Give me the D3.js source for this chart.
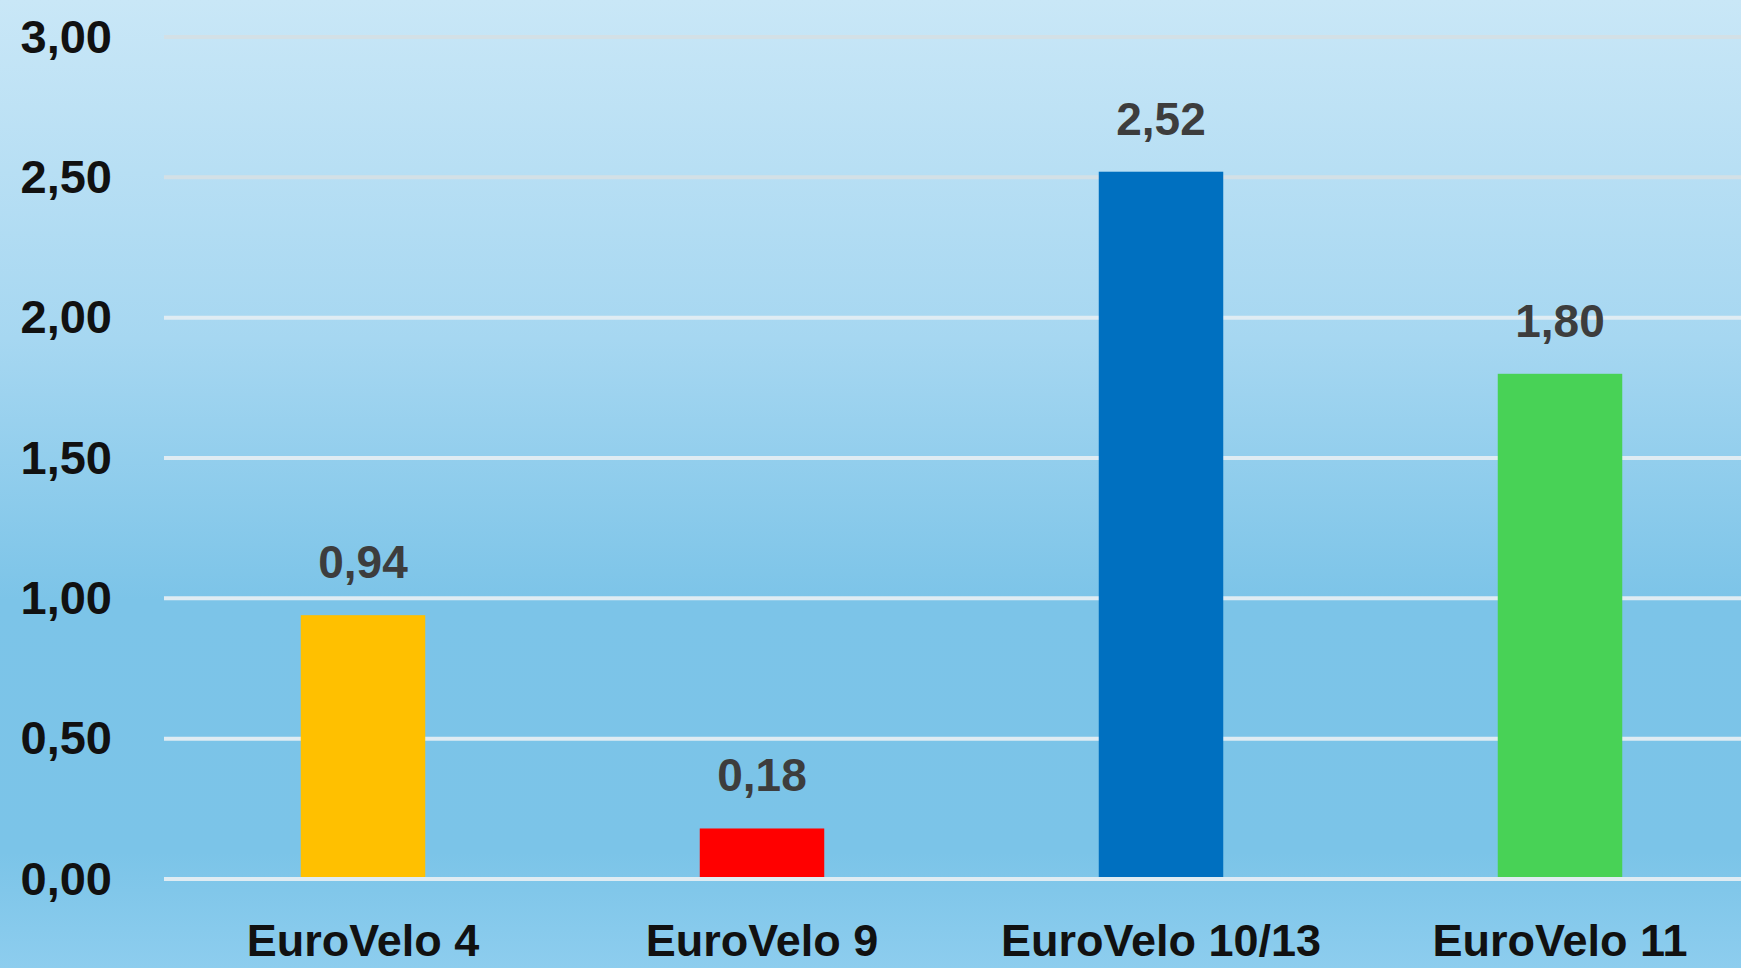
<!DOCTYPE html>
<html>
<head>
<meta charset="utf-8">
<script src="https://cdn.jsdelivr.net/npm/d3@7"></script>
<style>
  html, body { margin: 0; padding: 0; overflow: hidden; }
  svg { display: block; }
</style>
</head>
<body>
<svg id="chart"></svg>
<script>
const categories = ["EuroVelo 4", "EuroVelo 9", "EuroVelo 10/13", "EuroVelo 11"];
const values = [0.94, 0.18, 2.52, 1.80];
const barColors = ["#FFC000", "#FF0000", "#0070C0", "#48D256"];
const yTicks = [0, 0.5, 1, 1.5, 2, 2.5, 3];

const W = 1741, H = 968;
const plot = { left: 164, right: 1741, top: 37, bottom: 879 };

const locale = d3.formatLocale({ decimal: ",", thousands: ".", grouping: [3], currency: ["", "€"] });
const fmt = locale.format(".2f");

const svg = d3.select("#chart").attr("width", W).attr("height", H);

// Background gradient
const grad = svg.append("defs").append("linearGradient")
    .attr("id", "bg").attr("x1", 0).attr("y1", 0).attr("x2", 0).attr("y2", 1);
grad.append("stop").attr("offset", "0%").attr("stop-color", "#c9e7f7");
grad.append("stop").attr("offset", "35%").attr("stop-color", "#a6d7f1");
grad.append("stop").attr("offset", "62%").attr("stop-color", "#7cc4e8");
grad.append("stop").attr("offset", "88%").attr("stop-color", "#7bc4e8");
grad.append("stop").attr("offset", "100%").attr("stop-color", "#8dcdee");
svg.append("rect").attr("width", W).attr("height", H).attr("fill", "url(#bg)");

const y = d3.scaleLinear().domain([0, 3]).range([plot.bottom, plot.top]);
const x = d3.scaleBand().domain(categories).range([163.5, 1759.5]).padding(0);
const barW = x.bandwidth() * 0.312;

// Gridlines
svg.append("g")
  .selectAll("line")
  .data(yTicks)
  .enter()
  .append("line")
    .attr("x1", plot.left)
    .attr("x2", plot.right)
    .attr("y1", d => y(d))
    .attr("y2", d => y(d))
    .attr("stroke", d => d >= 2.5 ? "#d3e0e6" : "#dfecf3")
    .attr("stroke-width", 4);

// Y axis
const yAxis = svg.append("g")
    .attr("transform", `translate(${plot.left},0)`)
    .call(d3.axisLeft(y).tickValues(yTicks).tickFormat(fmt).tickSize(0).tickPadding(52));
yAxis.select(".domain").remove();
yAxis.selectAll("text")
    .attr("font-family", "Liberation Sans, Arial, sans-serif")
    .attr("font-weight", "bold")
    .attr("font-size", 47)
    .attr("fill", "#111111");

// X axis (labels sit right at the bottom edge, as in the reference)
const xAxis = svg.append("g")
    .attr("transform", `translate(0,${plot.bottom})`)
    .call(d3.axisBottom(x).tickSize(0).tickPadding(45));
xAxis.select(".domain").remove();
xAxis.selectAll("text")
    .attr("font-family", "Liberation Sans, Arial, sans-serif")
    .attr("font-weight", "bold")
    .attr("font-size", 45)
    .attr("fill", "#111111");

// Bars
const data = categories.map((c, i) => ({ cat: c, value: values[i], color: barColors[i] }));
svg.append("g")
  .selectAll("rect")
  .data(data)
  .enter()
  .append("rect")
    .attr("x", d => x(d.cat) + (x.bandwidth() - barW) / 2)
    .attr("width", barW)
    .attr("y", d => y(d.value))
    .attr("height", d => y(0) - y(d.value) - 2)
    .attr("fill", d => d.color);

// Value labels
svg.append("g")
  .selectAll("text")
  .data(data)
  .enter()
  .append("text")
    .attr("x", d => x(d.cat) + x.bandwidth() / 2)
    .attr("y", d => y(d.value) - 37)
    .attr("text-anchor", "middle")
    .attr("font-family", "Liberation Sans, Arial, sans-serif")
    .attr("font-weight", "bold")
    .attr("font-size", 46)
    .attr("fill", "#3d3d3d")
    .text(d => fmt(d.value));
</script>
</body>
</html>
